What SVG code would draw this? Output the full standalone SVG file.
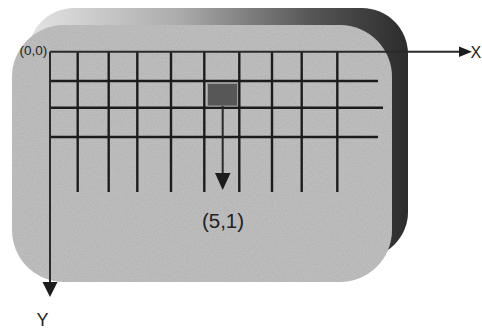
<svg xmlns="http://www.w3.org/2000/svg" width="482" height="329" viewBox="0 0 482 329">
  <style>
    .grid { stroke: #1c1c1c; stroke-width: 2.4; fill: none; }
    .axis { stroke: #2a2a2a; stroke-width: 2; fill: none; }
    .head { fill: #1c1c1c; }
    .lbl { font-family: "Liberation Sans", Arial, sans-serif; fill: #222; }
  </style>
  <defs>
    <linearGradient id="backGrad" x1="0" y1="0" x2="1" y2="0">
      <stop offset="0" stop-color="#e4e4e4"/>
      <stop offset="0.4" stop-color="#ababab"/>
      <stop offset="0.75" stop-color="#555555"/>
      <stop offset="1" stop-color="#2c2c2c"/>
    </linearGradient>
    <filter id="speckle" x="0" y="0" width="100%" height="100%">
      <feTurbulence type="fractalNoise" baseFrequency="0.9" numOctaves="2" seed="3" result="n"/>
      <feColorMatrix in="n" type="matrix" values="0 0 0 0 0  0 0 0 0 0  0 0 0 0 0  0 0 0 0.22 0" result="dots"/>
      <feComposite in="dots" in2="SourceGraphic" operator="in" result="dm"/>
      <feMerge><feMergeNode in="SourceGraphic"/><feMergeNode in="dm"/></feMerge>
    </filter>
  </defs>

  <g id="panel">
    <rect x="28" y="8" width="380" height="250" rx="46" ry="46" fill="url(#backGrad)"/>
    <rect x="12" y="25" width="380" height="257" rx="52" ry="52" fill="#c4c4c4" filter="url(#speckle)"/>
  </g>

  <g id="grid">
    <line class="grid" x1="50" y1="81" x2="378" y2="81"/>
    <line class="grid" x1="50" y1="107.7" x2="383" y2="107.7"/>
    <line class="grid" x1="50" y1="137" x2="378" y2="137"/>
    <line class="grid" x1="77.7" y1="51.7" x2="77.7" y2="192"/>
    <line class="grid" x1="108.7" y1="51.7" x2="108.7" y2="192"/>
    <line class="grid" x1="137.3" y1="51.7" x2="137.3" y2="192"/>
    <line class="grid" x1="171" y1="51.7" x2="171" y2="192"/>
    <line class="grid" x1="204.3" y1="51.7" x2="204.3" y2="192"/>
    <line class="grid" x1="239.3" y1="51.7" x2="239.3" y2="192"/>
    <line class="grid" x1="272" y1="51.7" x2="272" y2="192"/>
    <line class="grid" x1="301.7" y1="51.7" x2="301.7" y2="192"/>
    <line class="grid" x1="337.3" y1="51.7" x2="337.3" y2="192"/>
  </g>

  <g id="cell">
    <rect x="207.5" y="83.5" width="30" height="22.5" fill="#575757" stroke="#9a9a9a" stroke-width="1"/>
  </g>

  <g id="connectors">
    <line class="axis" x1="50" y1="51.7" x2="461" y2="51.7"/>
    <polygon class="head" points="459,46.5 472,51.7 459,57"/>
    <line class="axis" x1="50" y1="51.7" x2="50" y2="284"/>
    <polygon class="head" points="42.5,282 57.5,282 50,297"/>
    <line class="axis" x1="222.7" y1="106" x2="222.7" y2="175"/>
    <polygon class="head" points="215,173 230.5,173 222.7,190"/>
  </g>

  <g id="labels">
    <text class="lbl" x="19.5" y="54.5" font-size="13.5">(0,0)</text>
    <text class="lbl" x="470.5" y="58" font-size="16">X</text>
    <text class="lbl" x="42.5" y="326" font-size="18" text-anchor="middle">Y</text>
    <text class="lbl" x="223" y="228" font-size="20.5" text-anchor="middle">(5,1)</text>
  </g>
</svg>
